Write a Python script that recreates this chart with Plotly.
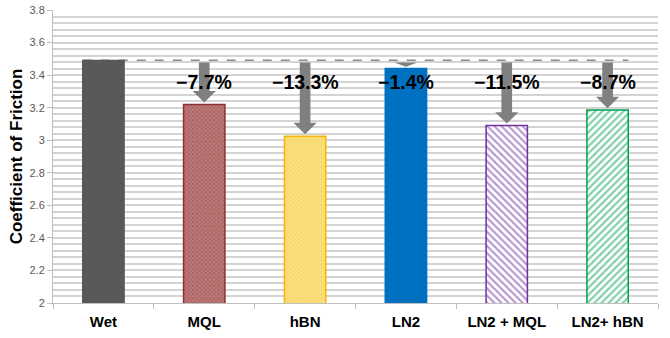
import plotly.graph_objects as go

# Coefficient of friction per cooling/lubrication condition
conditions = ["Wet", "MQL", "hBN", "LN2", "LN2 + MQL", "LN2+ hBN"]
cof = [3.49, 3.22, 3.025, 3.44, 3.09, 3.185]

# Bar styling per condition
fill_colors = ["#595959", "#bd7a7a", "#fbe08a", "#0070c0", "#ffffff", "#ffffff"]
line_colors = ["#595959", "#8b2f2f", "#f2b705", "#0070c0", "#7030a0", "#00a050"]
pattern_shapes = ["", "x", "x", "", "\\", "/"]
pattern_fg = ["#595959", "#8f3a3a", "#f5c518", "#0070c0", "#7030a0", "#00a050"]
pattern_size = [6, 3, 3, 6, 5, 5]
pattern_solidity = [0.3, 0.45, 0.45, 0.3, 0.42, 0.42]

bar_width = 0.41
baseline = cof[0]
labels = [f"\u2212{abs(v / baseline - 1) * 100:.1f}%" for v in cof]

fig = go.Figure()
for i, (c, v) in enumerate(zip(conditions, cof)):
    fig.add_trace(go.Bar(
        x=[c],
        y=[v],
        width=bar_width,
        marker=dict(
            color=fill_colors[i],
            line=dict(color=line_colors[i], width=1.5),
            pattern=dict(shape=pattern_shapes[i], fgcolor=pattern_fg[i],
                         size=pattern_size[i], solidity=pattern_solidity[i],
                         fillmode="overlay"),
        ),
        showlegend=False,
        name=c,
        hoverinfo="x+y",
    ))

shapes = []
# Dashed reference line at the baseline value
shapes.append(dict(type="line", xref="x", yref="y",
                   x0=0 - bar_width / 2, x1=len(conditions) - 1 + bar_width / 2,
                   y0=baseline, y1=baseline,
                   line=dict(color="#8c8c8c", width=2, dash="dash"), layer="below"))

# Downward arrows from the baseline to each reduced bar
shaft_hw = 0.053
head_hw = 0.115
head_len = 0.07
for i, v in enumerate(cof):
    if i == 0:
        continue
    y0 = baseline - 0.012
    tip = v + 0.012
    hl = min(head_len, y0 - tip)
    yh = tip + hl
    path = (f"M {i - shaft_hw},{y0} L {i + shaft_hw},{y0} L {i + shaft_hw},{yh} "
            f"L {i + head_hw},{yh} L {i},{tip} L {i - head_hw},{yh} "
            f"L {i - shaft_hw},{yh} Z")
    shapes.append(dict(type="path", xref="x", yref="y", path=path,
                       fillcolor="#808080", line=dict(width=0), layer="above"))

annotations = []
for i, lab in enumerate(labels):
    if i == 0:
        continue
    annotations.append(dict(x=i, y=3.357, xref="x", yref="y", text=lab,
                            showarrow=False,
                            font=dict(family="Arial", size=19.5, color="#000000",
                                      weight="bold")))

fig.update_layout(
    width=670, height=338,
    margin=dict(l=53, r=12, t=10, b=35, autoexpand=False),
    paper_bgcolor="white",
    plot_bgcolor="white",
    shapes=shapes,
    annotations=annotations,
    font=dict(family="Arial"),
    barmode="overlay",
    xaxis=dict(
        type="category",
        tickson="boundaries",
        ticks="outside", ticklen=5, tickcolor="#bfbfbf",
        showline=True, linecolor="#bfbfbf", linewidth=1,
        showgrid=False,
        automargin=False,
        ticklabelstandoff=5,
        tickfont=dict(family="Arial", size=15, color="#000000", weight="bold"),
        range=[-0.5, 5.5],
    ),
    yaxis=dict(
        range=[2, 3.8],
        dtick=0.2, tick0=2,
        showline=True, linecolor="#bfbfbf", linewidth=1,
        ticks="outside", ticklen=5, tickcolor="#bfbfbf",
        gridcolor="#d4d4d4", gridwidth=1.5,
        minor=dict(dtick=0.04, showgrid=True, gridcolor="#d4d4d4", gridwidth=1.5),
        tickfont=dict(family="Arial", size=11, color="#595959"),
        automargin=False,
        title=dict(text="Coefficient of Friction", standoff=2,
                   font=dict(family="Arial", size=17, color="#000000",
                             weight="bold")),
        zeroline=False,
    ),
)

fig.write_html("out.html")
